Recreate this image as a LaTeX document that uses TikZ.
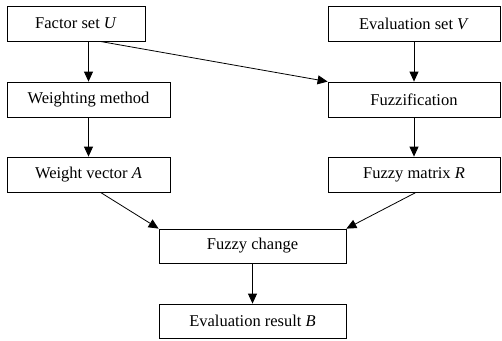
\documentclass[tikz,border=0pt]{standalone}
\usepackage{fontspec}
\setmainfont{Liberation Serif}
\usetikzlibrary{arrows.meta,calc}
\begin{document}
\begin{tikzpicture}[x=1pt,y=-1pt,
  box/.style={draw,line width=0.8pt,rectangle,inner sep=0pt,font=\fontsize{16.5}{19}\selectfont},
  arr/.style={line width=0.8pt,-{Triangle[length=10pt,width=9pt]}}]
\useasboundingbox (0,0) rectangle (502,340);
\node[box,minimum width=138pt,minimum height=35pt] (fs) at (76,23.5) {Factor set \textit{U}};
\node[box,minimum width=172pt,minimum height=35pt] (es) at (414,23.5) {Evaluation set \textit{V}};
\node[box,minimum width=163pt,minimum height=35pt] (wm) at (88.5,99.5) {Weighting method};
\node[box,minimum width=172pt,minimum height=35pt] (fz) at (414,99.5) {Fuzzification};
\node[box,minimum width=163pt,minimum height=35pt] (wv) at (88.5,174.5) {Weight vector \textit{A}};
\node[box,minimum width=172pt,minimum height=35pt] (fm) at (414,174.5) {Fuzzy matrix \textit{R}};
\node[box,minimum width=187pt,minimum height=34pt] (fc) at (252.5,246) {Fuzzy change};
\node[box,minimum width=187pt,minimum height=34pt] (er) at (252.5,321) {Evaluation result \textit{B}};
\draw[arr] (fs.south -| wm.north) -- (wm.north);
\draw[arr] (wm.south) -- (wv.north);
\draw[arr] (es.south) -- (fz.north);
\draw[arr] (fz.south) -- (fm.north);
\draw[arr] ($(fs.south)+(24,0)$) -- (fz.north west);
\draw[arr] ($(wv.south)+(12,0)$) -- (fc.north west);
\draw[arr] ($(fm.south)+(2,0)$) -- (fc.north east);
\draw[arr] (fc.south) -- (er.north);
\end{tikzpicture}
\end{document}
